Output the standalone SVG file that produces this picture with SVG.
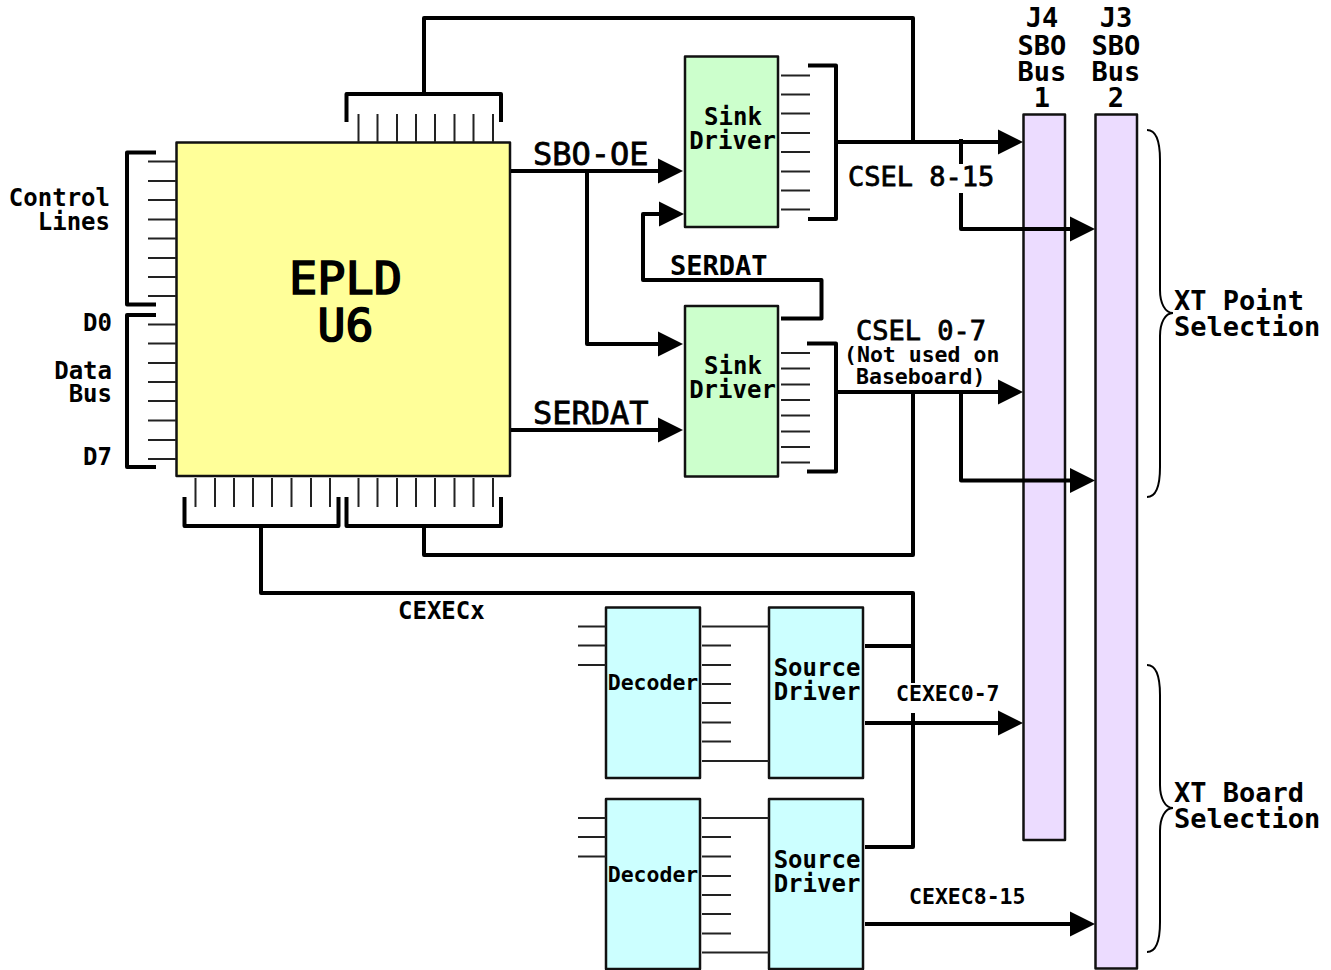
<svg xmlns="http://www.w3.org/2000/svg" width="1331" height="970" viewBox="0 0 1331 970">
<style>
text{font-family:"DejaVu Sans Mono","Liberation Mono",monospace;font-weight:bold;fill:#000}
text.lt{font-weight:normal;stroke:#000;stroke-width:.8}
text.f46.lt{stroke-width:1.6}
.box{stroke:#111;stroke-width:2.5;stroke-linejoin:round}
.pin{stroke:#222;stroke-width:2;fill:none}
.bus{stroke:#000;stroke-width:4;fill:none;stroke-linejoin:round}
.brace{stroke:#000;stroke-width:2;fill:none}
.m{text-anchor:middle}.e{text-anchor:end}
.f24{font-size:24px}.f27{font-size:27px}.f32{font-size:32px}.f46{font-size:44px}.f21{font-size:21.5px}
</style>
<defs>
<polygon id="ah" points="0,0 -25,-12.5 -25,12.5" fill="#000"/>
</defs>
<rect width="1331" height="970" fill="#fff"/>
<g id="j4"><rect class="box" x="1023.5" y="114.5" width="41.5" height="725.5" fill="#ecdcff"/>
<text class="f27 m" x="1042" y="27">J4</text><text class="f27 m" x="1042" y="54.500">SBO</text><text class="f27 m" x="1042" y="81">Bus</text><text class="f27 m" x="1042" y="107">1</text></g>
<g id="j3"><rect class="box" x="1095.500" y="114.500" width="41.500" height="854" fill="#ecdcff"/>
<text class="f27 m" x="1116" y="27">J3</text><text class="f27 m" x="1116" y="54.500">SBO</text><text class="f27 m" x="1116" y="81">Bus</text><text class="f27 m" x="1116" y="107">2</text></g>
<g id="epld"><rect class="box" x="176.500" y="142.500" width="333.500" height="333.500" fill="#ffff99"/>
<text class="f46 m lt" x="345.500" y="294" textLength="113" lengthAdjust="spacingAndGlyphs">EPLD</text><text class="f46 m lt" x="345.500" y="341" textLength="56" lengthAdjust="spacingAndGlyphs">U6</text></g>
<g id="sink1"><rect class="box" x="685" y="56.500" width="93" height="170.500" fill="#ccffcc"/>
<text class="f24 m" x="733" y="125">Sink</text><text class="f24 m" x="732.500" y="149">Driver</text></g>
<g id="sink2"><rect class="box" x="685" y="306" width="93" height="170.500" fill="#ccffcc"/>
<text class="f24 m" x="733" y="374">Sink</text><text class="f24 m" x="732.500" y="398">Driver</text></g>
<g id="decoder1"><rect class="box" x="606" y="607.500" width="94" height="170.500" fill="#ccffff"/><text class="f21 m" x="653" y="690">Decoder</text></g>
<g id="decoder2"><rect class="box" x="606" y="799" width="94" height="170" fill="#ccffff"/><text class="f21 m" x="653" y="882">Decoder</text></g>
<g id="source1"><rect class="box" x="769" y="607.500" width="94" height="170.500" fill="#ccffff"/>
<text class="f24 m" x="817" y="676">Source</text><text class="f24 m" x="817" y="700">Driver</text></g>
<g id="source2"><rect class="box" x="769" y="799" width="94" height="170" fill="#ccffff"/>
<text class="f24 m" x="817" y="868">Source</text><text class="f24 m" x="817" y="892">Driver</text></g>
<g id="pins">
<path class="pin" d="M148 161.500H176M148 181H176M148 200H176M148 219.500H176M148 238.500H176M148 258H176M148 277H176M148 296H176"/>
<path class="pin" d="M148 324.500H176M148 343.500H176M148 363H176M148 382H176M148 401H176M148 420.500H176M148 440H176M148 459H176"/>
<path class="pin" d="M358.500 114V142M377.500 114V142M397 114V142M416 114V142M435 114V142M454.500 114V142M473.500 114V142M493 114V142"/>
<path class="pin" d="M195.500 478V507M215 478V507M234 478V507M253 478V507M272 478V507M291.500 478V507M311 478V507M330 478V507"/>
<path class="pin" d="M358.500 478V507M377.500 478V507M397 478V507M416 478V507M435 478V507M454.500 478V507M473.500 478V507M493 478V507"/>
<path class="pin" d="M781 75.500H810M781 94.500H810M781 113.500H810M781 133H810M781 152H810M781 171.500H810M781 190.500H810M781 209.500H810"/>
<path class="pin" d="M781 353H810M781 368.500H810M781 384.500H810M781 400H810M781 415.500H810M781 431.500H810M781 447H810M781 462.500H810"/>
<path class="pin" d="M578 626.500H606M578 645.500H606M578 665H606M578 818H606M578 837H606M578 856.500H606"/>
<path class="pin" d="M702 626.500H769M702 645.500H731M702 665H731M702 684H731M702 703H731M702 722.500H731M702 741.500H731M702 761H769"/>
<path class="pin" d="M702 818H769M702 837H731M702 856.500H731M702 876H731M702 895H731M702 914H731M702 933.500H731M702 952.500H769"/>
</g>
<g id="connectors">
<path class="bus" d="M156 152.500H127V304.500H156M156 315H127V467H156"/>
<path class="bus" d="M346.500 122V94H501V122M424 94V18H913V142"/>
<path class="bus" d="M184.500 497V526H338.500V497M346.500 497V526H501V497"/>
<path class="bus" d="M261 526V593H913V683M913 713V847H865"/>
<path class="bus" d="M424 526V555H913V392"/>
<path class="bus" d="M808 65.500H836V219H808M836 142H1000M961 139V164M961 193V229H1072"/>
<path class="bus" d="M807 343.500H836V471.500H807M836 392H1000M961 392V480.500H1072"/>
<path class="bus" d="M511 171H660M587 171V344H660M511 430H660"/>
<path class="bus" d="M781 318.500H821.500V280H643V214H660"/>
<path class="bus" d="M865 646H913M865 723H1000M865 847H913M865 924H1072"/>
<use href="#ah" x="1023" y="142"/><use href="#ah" x="1095" y="229"/>
<use href="#ah" x="1023" y="392"/><use href="#ah" x="1095" y="480.500"/>
<use href="#ah" x="683" y="171"/><use href="#ah" x="684" y="214"/>
<use href="#ah" x="683" y="344"/><use href="#ah" x="683" y="430"/>
<use href="#ah" x="1023" y="723"/><use href="#ah" x="1095" y="924"/>
</g>
<g id="braces">
<path class="brace" d="M1147 130C1156 130 1160 140 1160 160V290C1160 303 1165 313 1173 313C1165 313 1160 323 1160 336V467C1160 487 1156 497 1147 497"/>
<path class="brace" d="M1147 665C1156 665 1160 675 1160 695V785C1160 798 1165 808 1173 808C1165 808 1160 818 1160 831V922C1160 942 1156 952 1147 952"/>
</g>
<g id="labels">
<text class="f24 e" x="110" y="206">Control</text><text class="f24 e" x="110" y="230">Lines</text>
<text class="f24 e" x="112" y="331">D0</text><text class="f24 e" x="112" y="379">Data</text><text class="f24 e" x="112" y="402">Bus</text><text class="f24 e" x="112" y="465">D7</text>
<text class="f32 lt" x="533" y="165">SBO-OE</text><text class="f32 lt" x="533" y="424">SERDAT</text>
<text class="f27" x="670" y="275">SERDAT</text>
<text class="f27 lt" x="848" y="186">CSEL 8-15</text>
<text class="f27 lt" x="856" y="340">CSEL 0-7</text>
<text class="f21" x="844" y="362">(Not used on</text><text class="f21" x="856" y="383.500">Baseboard)</text>
<text class="f24" x="398" y="619">CEXECx</text>
<text class="f21" x="896" y="701">CEXEC0-7</text><text class="f21" x="909" y="904">CEXEC8-15</text>
<text class="f27" x="1174" y="310">XT Point</text><text class="f27" x="1174" y="336">Selection</text>
<text class="f27" x="1174" y="802">XT Board</text><text class="f27" x="1174" y="828">Selection</text>
</g>
</svg>
